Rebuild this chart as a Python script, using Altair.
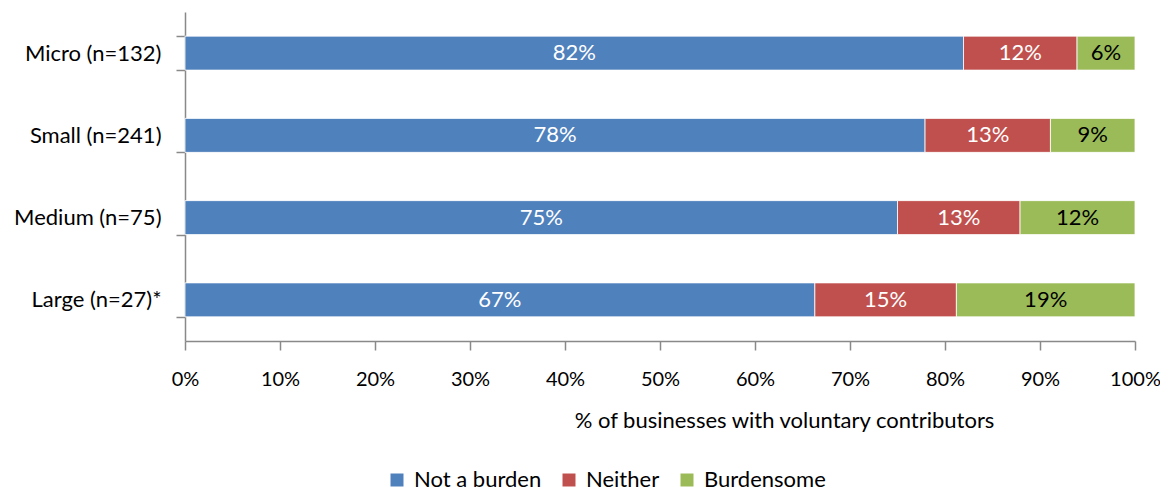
import altair as alt
import pandas as pd

categories = ["Micro (n=132)", "Small (n=241)", "Medium (n=75)", "Large (n=27)*"]
responses = ["Not a burden", "Neither", "Burdensome"]
not_burden = [81.95, 77.9, 75.0, 66.3]
neither = [11.95, 13.2, 12.9, 14.9]
burdensome = [6.1, 8.9, 12.1, 18.8]
not_burden_lbl = ["82%", "78%", "75%", "67%"]
neither_lbl = ["12%", "13%", "13%", "15%"]
burdensome_lbl = ["6%", "9%", "12%", "19%"]
colors = ["#4F81BD", "#C0504D", "#9BBB59"]
x_ticks = [0, 0.1, 0.2, 0.3, 0.4, 0.5, 0.6, 0.7, 0.8, 0.9, 1.0]

rows = []
for i, cat in enumerate(categories):
    start = 0.0
    for j, (vals, lbls) in enumerate(zip([not_burden, neither, burdensome],
                                         [not_burden_lbl, neither_lbl, burdensome_lbl])):
        v = vals[i] / 100.0
        rows.append({"cat": cat, "resp": responses[j], "order": j,
                     "x0": start, "x1": start + v, "mid": start + v / 2,
                     "label": lbls[i]})
        start += v
df = pd.DataFrame(rows)

FONT = "Lato"
FS = 22
base = alt.Chart(df)

y_enc = alt.Y("cat:N", sort=categories, title=None,
              scale=alt.Scale(paddingInner=0.587, paddingOuter=0.2935),
              axis=alt.Axis(tickBand="extent", tickSize=9, labelPadding=15,
                            labelFontSize=FS, labelColor="black", labelFont=FONT,
                            domainColor="#898989", tickColor="#898989",
                            domainWidth=1.5, tickWidth=1.5))

bars = base.mark_bar(stroke="white", strokeWidth=0.8).encode(
    x=alt.X("x0:Q", scale=alt.Scale(domain=[0, 1], nice=False),
            axis=alt.Axis(values=x_ticks, format=".0%", tickSize=9, labelPadding=19,
                          labelFontSize=20, labelColor="black", labelFont=FONT,
                          domainColor="#898989", tickColor="#898989",
                          domainWidth=1.5, tickWidth=1.5, grid=False,
                          labelFlush=False,
                          title="% of businesses with voluntary contributors",
                          titleFontSize=FS, titleFont=FONT, titleFontWeight="normal",
                          titleColor="black", titlePadding=21, titleX=599,
                          titleAlign="center")),
    x2="x1:Q",
    y=y_enc,
    color=alt.Color("resp:N", sort=responses,
                    scale=alt.Scale(domain=responses, range=colors),
                    legend=alt.Legend(title=None, orient="none", direction="horizontal",
                                      legendX=201, legendY=457, padding=0,
                                      symbolType="square", symbolSize=169,
                                      symbolStrokeWidth=0, labelFontSize=FS,
                                      labelFont=FONT, labelColor="black",
                                      labelOffset=6, columnPadding=16)),
    order=alt.Order("order:Q"),
)

texts = base.mark_text(fontSize=FS, font=FONT, baseline="middle", align="center").encode(
    x=alt.X("mid:Q"),
    y=alt.Y("cat:N", sort=categories),
    text="label:N",
    color=alt.condition(alt.datum.resp == "Burdensome", alt.value("black"), alt.value("white")),
)

chart = alt.layer(bars, texts).properties(
    width=950, height=329,
    autosize=alt.AutoSizeParams(type="none"),
    padding={"left": 177, "top": 4, "right": 25, "bottom": 153},
).configure(font=FONT).configure_view(stroke=None)

chart.save("out.html", embed_options={"renderer": "svg", "actions": False})
